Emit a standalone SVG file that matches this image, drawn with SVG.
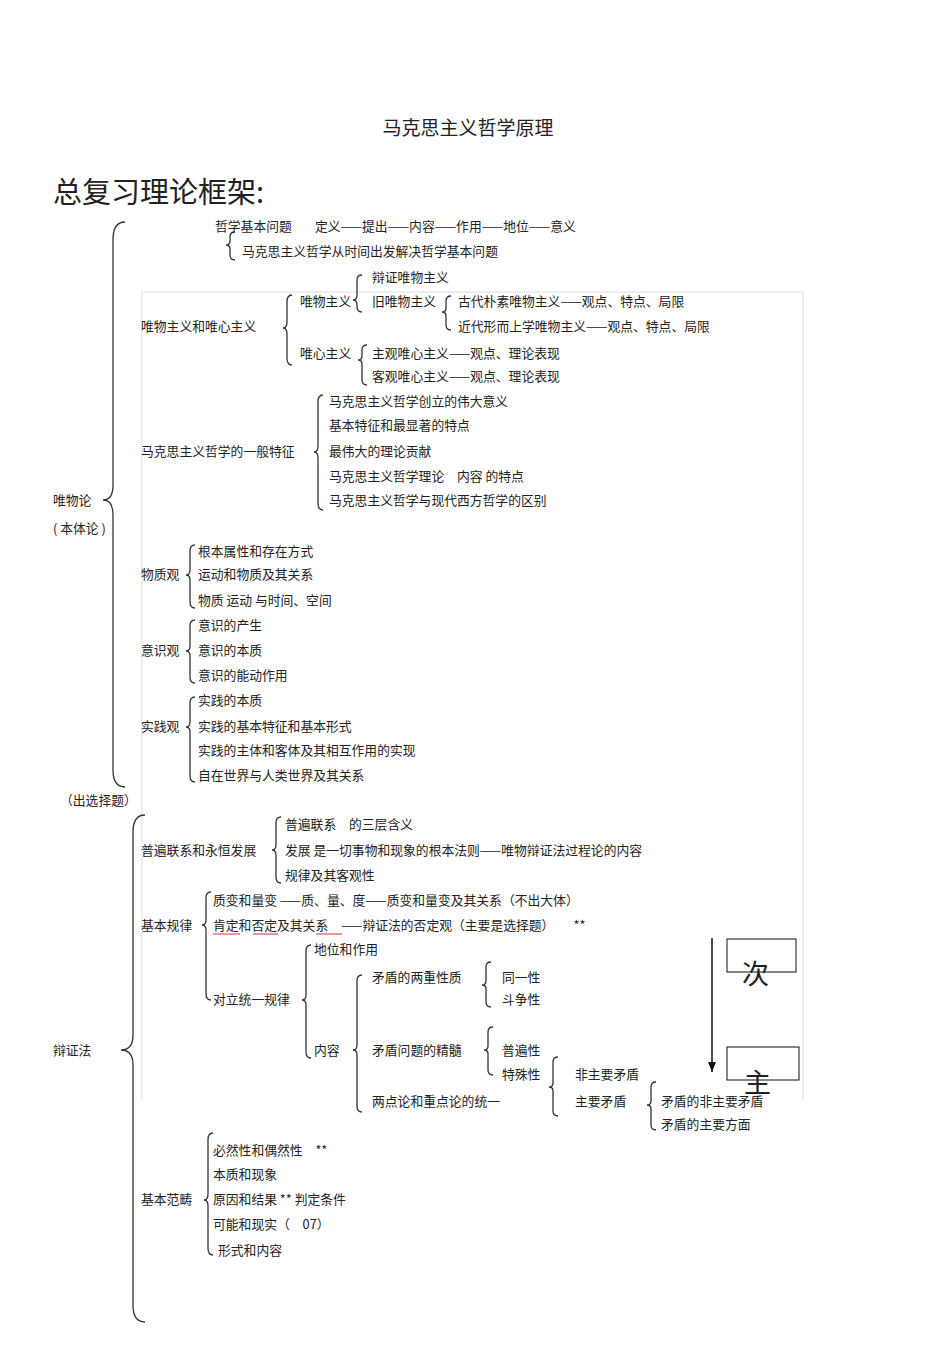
<svg xmlns="http://www.w3.org/2000/svg" width="950" height="1345" viewBox="0 0 950 1345">
<style>
text{font-family:"Noto Sans CJK SC","Liberation Sans",sans-serif;font-size:12.8px;fill:#222}
.b{fill:none;stroke:#333;stroke-width:1.3}
.t{font-size:19px}
.h{font-size:29px}
.big{font-size:27px;font-family:"Noto Sans CJK SC",serif}
</style>
<defs><marker id="ah" markerWidth="10" markerHeight="8" refX="10" refY="4" orient="auto" markerUnits="userSpaceOnUse"><path d="M0,0 L10,4 L0,8 Z" fill="#111"/></marker></defs>
<rect width="950" height="1345" fill="#fff"/>
<path d="M142,1100 V292 H803 V1100" fill="none" stroke="#ddd" stroke-width="1"/>
<text class="t" x="468" y="135" text-anchor="middle">马克思主义哲学原理</text>
<text class="h" x="53" y="203">总复习理论框架:</text>
<g id="connectors">
<path class="b" d="M125,222 Q113,222 113,240 L113,485 Q113,500 103,500 Q113,500 113,515 L113,770 Q113,787 125,787"/>
<path class="b" d="M235,232 Q230,232 230,237 L230,241 Q230,245 226,245 Q230,245 230,249 L230,255 Q230,260 235,260"/>
<path class="b" d="M362,275 Q357,275 357,280 L357,295 Q357,300 353,300 Q357,300 357,305 L357,307 Q357,312 362,312"/>
<path class="b" d="M292,295 Q287,295 287,302 L287,322 Q287,328 283,328 Q287,328 287,334 L287,358 Q287,365 292,365"/>
<path class="b" d="M451,296 Q446,296 446,301 L446,308 Q446,312 442,312 Q446,312 446,316 L446,325 Q446,330 451,330"/>
<path class="b" d="M367,345 Q362,345 362,350 L362,356 Q362,360 358,360 Q362,360 362,364 L362,380 Q362,385 367,385"/>
<path class="b" d="M323,395 Q318,395 318,402 L318,446 Q318,452 314,452 Q318,452 318,458 L318,503 Q318,510 323,510"/>
<path class="b" d="M195,545 Q190,545 190,551 L190,570 Q190,575 186,575 Q190,575 190,580 L190,602 Q190,608 195,608"/>
<path class="b" d="M195,620 Q190,620 190,626 L190,646 Q190,651 186,651 Q190,651 190,656 L190,677 Q190,683 195,683"/>
<path class="b" d="M195,697 Q190,697 190,703 L190,722 Q190,727 186,727 Q190,727 190,732 L190,776 Q190,782 195,782"/>
<path class="b" d="M145,815 Q133,815 133,832 L133,1035 Q133,1050 121,1050 Q133,1050 133,1065 L133,1305 Q133,1322 145,1322"/>
<path class="b" d="M281,817 Q276,817 276,823 L276,845 Q276,850 272,850 Q276,850 276,855 L276,877 Q276,883 281,883"/>
<path class="b" d="M211,892 Q206,892 206,898 L206,920 Q206,925 202,925 Q206,925 206,930 L206,994 Q206,1000 211,1000"/>
<path class="b" d="M311,945 Q306,945 306,951 L306,995 Q306,1000 302,1000 Q306,1000 306,1005 L306,1052 Q306,1058 311,1058"/>
<path class="b" d="M362,975 Q357,975 357,981 L357,1045 Q357,1050 353,1050 Q357,1050 357,1055 L357,1106 Q357,1112 362,1112"/>
<path class="b" d="M491,962 Q486,962 486,967 L486,981 Q486,985 482,985 Q486,985 486,989 L486,1002 Q486,1007 491,1007"/>
<path class="b" d="M493,1027 Q488,1027 488,1032 L488,1046 Q488,1050 484,1050 Q488,1050 488,1054 L488,1070 Q488,1075 493,1075"/>
<path class="b" d="M558,1057 Q553,1057 553,1062 L553,1083 Q553,1087 549,1087 Q553,1087 553,1091 L553,1111 Q553,1116 558,1116"/>
<path class="b" d="M656,1082 Q651,1082 651,1087 L651,1101 Q651,1105 647,1105 Q651,1105 651,1109 L651,1125 Q651,1130 656,1130"/>
<path class="b" d="M213,1133 Q208,1133 208,1140 L208,1194 Q208,1200 204,1200 Q208,1200 208,1206 L208,1248 Q208,1255 213,1255"/>
<line x1="712" y1="938" x2="712" y2="1072" stroke="#111" stroke-width="1.5" marker-end="url(#ah)"/>
<g stroke="#c33" stroke-width="1"><line x1="213" y1="934" x2="240" y2="934"/><line x1="253" y1="934" x2="278" y2="934"/><line x1="316" y1="934" x2="342" y2="934"/></g>
</g>
<g id="n-wuwulun"><text x="53" y="505">唯物论</text><text x="53" y="533">( 本体论 )</text></g>
<g id="n-zhexue"><text x="215" y="231">哲学基本问题</text><text x="315" y="231">定义——提出——内容——作用——地位——意义</text><text x="242" y="256">马克思主义哲学从时间出发解决哲学基本问题</text></g>
<g id="n-wei"><text x="141" y="331">唯物主义和唯心主义</text><text x="300" y="306">唯物主义</text><text x="372" y="282">辩证唯物主义</text><text x="372" y="306">旧唯物主义</text><text x="458" y="306">古代朴素唯物主义——观点、特点、局限</text><text x="458" y="331">近代形而上学唯物主义——观点、特点、局限</text><text x="300" y="358">唯心主义</text><text x="372" y="358">主观唯心主义——观点、理论表现</text><text x="372" y="381">客观唯心主义——观点、理论表现</text></g>
<g id="n-tezheng"><text x="141" y="456">马克思主义哲学的一般特征</text><text x="329" y="406">马克思主义哲学创立的伟大意义</text><text x="329" y="430">基本特征和最显著的特点</text><text x="329" y="456">最伟大的理论贡献</text><text x="329" y="481">马克思主义哲学理论　内容 的特点</text><text x="329" y="505">马克思主义哲学与现代西方哲学的区别</text></g>
<g id="n-wuzhi"><text x="141" y="579">物质观</text><text x="198" y="556">根本属性和存在方式</text><text x="198" y="579">运动和物质及其关系</text><text x="198" y="605">物质 运动 与时间、空间</text></g>
<g id="n-yishi"><text x="141" y="655">意识观</text><text x="198" y="630">意识的产生</text><text x="198" y="655">意识的本质</text><text x="198" y="680">意识的能动作用</text></g>
<g id="n-shijian"><text x="141" y="731">实践观</text><text x="198" y="705">实践的本质</text><text x="198" y="731">实践的基本特征和基本形式</text><text x="198" y="755">实践的主体和客体及其相互作用的实现</text><text x="198" y="780">自在世界与人类世界及其关系</text></g>
<g id="n-xuanze"><text x="60" y="805">（出选择题）</text></g>
<g id="n-bianzheng"><text x="53" y="1055">辩证法</text></g>
<g id="n-lianxi"><text x="141" y="855">普遍联系和永恒发展</text><text x="285" y="829">普遍联系　的三层含义</text><text x="285" y="855">发展 是一切事物和现象的根本法则——唯物辩证法过程论的内容</text><text x="285" y="880">规律及其客观性</text></g>
<g id="n-guilv"><text x="141" y="930">基本规律</text><text x="213" y="905">质变和量变 ——质、量、度——质变和量变及其关系（不出大体）</text><text x="213" y="930">肯定和否定及其关系　——辩证法的否定观（主要是选择题）　　**</text><text x="213" y="1004">对立统一规律</text><text x="314" y="954">地位和作用</text><text x="314" y="1055">内容</text><text x="372" y="982">矛盾的两重性质</text><text x="502" y="982">同一性</text><text x="502" y="1004">斗争性</text><text x="372" y="1055">矛盾问题的精髓</text><text x="502" y="1055">普遍性</text><text x="502" y="1079">特殊性</text><text x="372" y="1106">两点论和重点论的统一</text><text x="575" y="1079">非主要矛盾</text><text x="575" y="1106">主要矛盾</text><text x="661" y="1106">矛盾的非主要矛盾</text><text x="661" y="1129">矛盾的主要方面</text></g>
<g id="n-ci"><rect x="727" y="939" width="69" height="33" fill="none" stroke="#111" stroke-width="1"/><text class="big" x="742" y="984">次</text></g>
<g id="n-zhu"><rect x="727" y="1047" width="72" height="33" fill="none" stroke="#111" stroke-width="1"/><text class="big" x="744" y="1093">主</text></g>
<g id="n-fanchou"><text x="141" y="1204">基本范畴</text><text x="213" y="1155">必然性和偶然性　**</text><text x="213" y="1179">本质和现象</text><text x="213" y="1204">原因和结果 ** 判定条件</text><text x="213" y="1229">可能和现实（　07）</text><text x="218" y="1255">形式和内容</text></g>
</svg>
